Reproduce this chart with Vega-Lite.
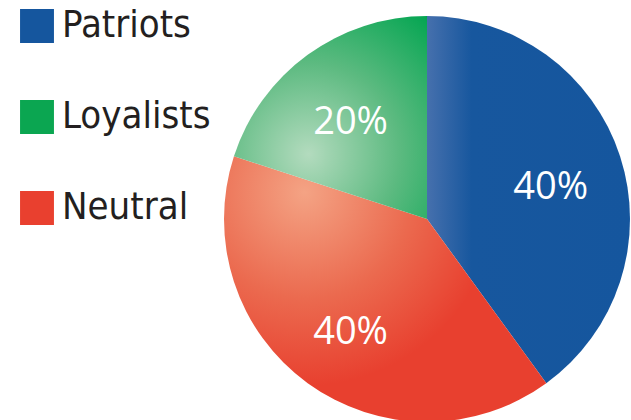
{
  "$schema": "https://vega.github.io/schema/vega-lite/v6.json",
  "autosize": "none",
  "width": 406,
  "height": 406,
  "padding": {"left": 224, "top": 16, "right": 1, "bottom": 0},
  "background": "white",
  "view": {"stroke": null},
  "data": {
    "values": [
      {"party": "Patriots", "share": 0.4, "ord": 1},
      {"party": "Neutral", "share": 0.4, "ord": 2},
      {"party": "Loyalists", "share": 0.2, "ord": 3}
    ]
  },
  "encoding": {
    "theta": {"field": "share", "type": "quantitative", "stack": true},
    "order": {"field": "ord", "type": "quantitative"}
  },
  "layer": [
    {
      "mark": {"type": "arc", "outerRadius": 203, "stroke": null},
      "encoding": {
        "fill": {
          "field": "party",
          "type": "nominal",
          "scale": {
            "domain": ["Patriots", "Loyalists", "Neutral"],
            "range": ["#15569e", "#0ba651", "#e9402f"]
          },
          "legend": {
            "title": null,
            "orient": "none",
            "legendX": -206,
            "legendY": -9,
            "symbolType": "square",
            "symbolSize": 1150,
            "symbolStrokeWidth": 0,
            "symbolOpacity": 1,
            "labelFont": "'DejaVu Sans Condensed', Roboto, sans-serif",
            "labelFontSize": 38,
            "labelColor": "#231f20",
            "labelOffset": 6,
            "rowPadding": 53,
            "padding": 0
          },
          "condition": [
            {
              "test": "datum.party === 'Patriots'",
              "value": {
                "gradient": "linear",
                "x1": 0, "y1": 0.5, "x2": 1, "y2": 0.5,
                "stops": [
                  {"offset": 0, "color": "#4670ad"},
                  {"offset": 0.22, "color": "#17579e"},
                  {"offset": 1, "color": "#15569e"}
                ]
              }
            },
            {
              "test": "datum.party === 'Loyalists'",
              "value": {
                "gradient": "radial",
                "x1": 0.39, "y1": 0.68, "r1": 0,
                "x2": 0.39, "y2": 0.68, "r2": 0.9,
                "stops": [
                  {"offset": 0, "color": "#b3dbbe"},
                  {"offset": 0.5, "color": "#5cba80"},
                  {"offset": 1, "color": "#03a551"}
                ]
              }
            },
            {
              "test": "datum.party === 'Neutral'",
              "value": {
                "gradient": "radial",
                "x1": 0.25, "y1": 0.2, "r1": 0,
                "x2": 0.25, "y2": 0.2, "r2": 0.6,
                "stops": [
                  {"offset": 0, "color": "#f4a384"},
                  {"offset": 0.55, "color": "#eb6a4f"},
                  {"offset": 1, "color": "#e8402f"}
                ]
              }
            }
          ]
        }
      }
    },
    {
      "mark": {
        "type": "text",
        "radius": 130,
        "dy": 9,
        "font": "Open Sans",
        "fontSize": 38,
        "color": "white",
        "baseline": "middle",
        "align": "center"
      },
      "encoding": {
        "text": {"field": "share", "type": "quantitative", "format": ".0%"}
      }
    }
  ]
}
